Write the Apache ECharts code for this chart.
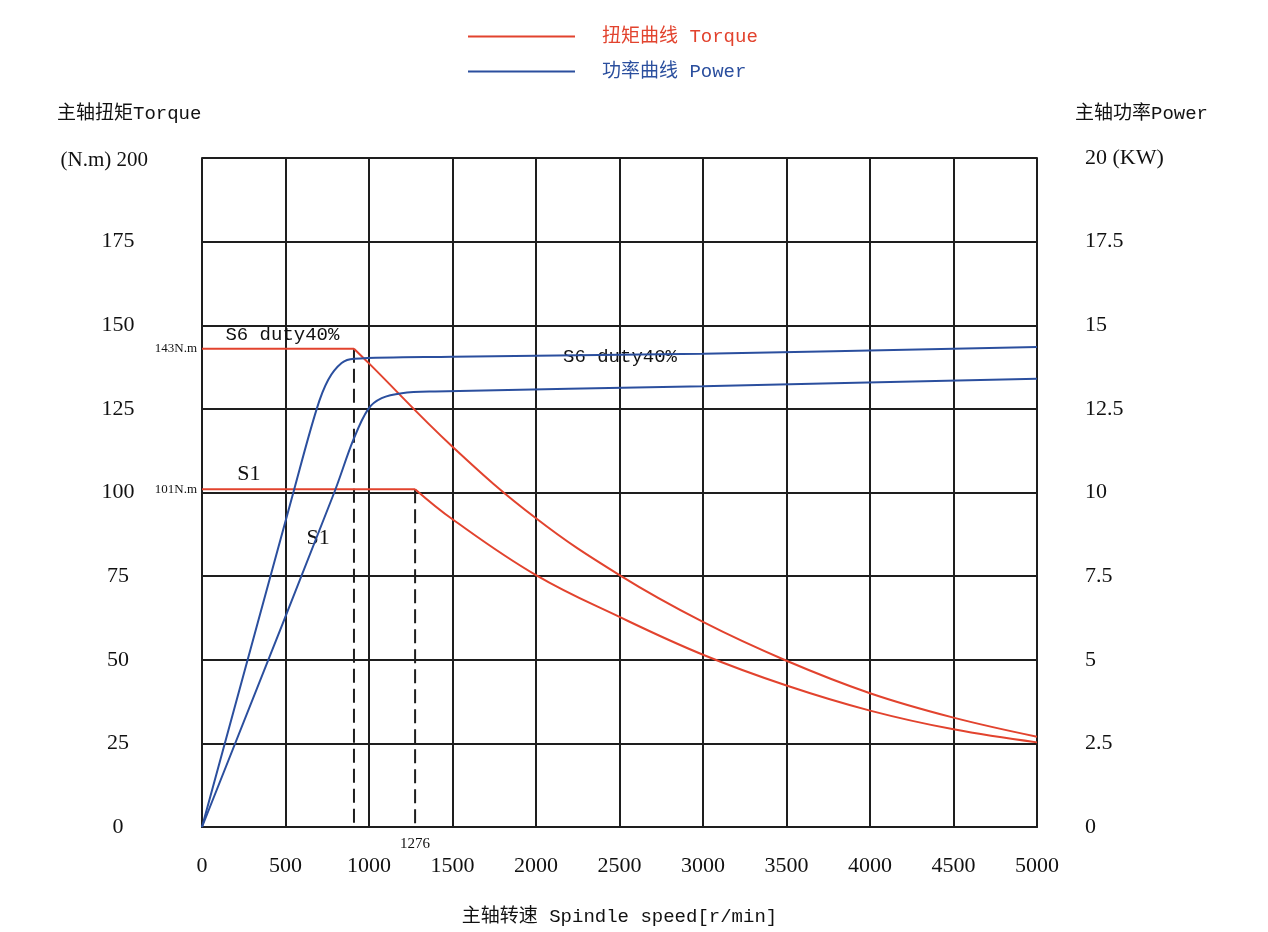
<!DOCTYPE html>
<html><head><meta charset="utf-8">
<script src="https://cdn.jsdelivr.net/npm/echarts@6/dist/echarts.min.js"></script>
<style>html,body{margin:0;padding:0;background:#fff}#c{width:1268px;height:932px}</style>
</head><body><div id="c"></div><script>
// ---- data ----
const speedMin = 0, speedMax = 5000, speedStep = 500;
const torqueMin = 0, torqueMax = 200, torqueStep = 25;
const powerMin = 0, powerMax = 20, powerStep = 2.5;
// torque [rpm, N.m]
const torqueS6 = [[0,143],[910,143],[1000,138.6],[1500,113.7],[2000,92.3],[2500,75.3],[3000,61.3],[3500,49.7],[4000,40],[4500,32.7],[5000,27]];
const torqueS1 = [[0,101],[1276,101],[1500,92],[2000,75.3],[2500,62.8],[3000,51.5],[3500,42.3],[4000,34.8],[4500,29.2],[5000,25.3]];
// power [rpm, kW]
const powerS6 = [[0,0],[547,10],[687,12.5],[756,13.37],[836,13.87],[910,14.0],[1500,14.06],[3000,14.15],[5000,14.35]];
const powerS1 = [[0,0],[792,10],[906,11.57],[996,12.5],[1076,12.82],[1196,12.97],[1395,13.02],[3000,13.18],[5000,13.4]];
// corner-speed guide lines
const cornerS6 = [[910,143],[910,0]];
const cornerS1 = [[1276,101],[1276,0]];
const torqueName = '扭矩曲线 Torque', powerName = '功率曲线 Power';

(function () {
const RED = '#e2432e', BLUE = '#2b4f9e', INK = '#1e1e1e';
const MONO = "'Liberation Mono','Noto Sans CJK SC',monospace";
const SERIF = "'Liberation Serif','Noto Sans CJK SC',serif";

const chart = echarts.init(document.getElementById('c'));
const flatLen = 2;
const option = {
  backgroundColor: '#fff',
  animation: false,
  grid: { left: 202, right: 231, top: 158, bottom: 105, outerBoundsMode: 'none', containLabel: false },
  legend: {
    left: 463, top: 22, orient: 'vertical', icon: 'rect', itemWidth: 107, itemHeight: 2, itemGap: 16,
    textStyle: { fontSize: 19, fontFamily: MONO, padding: [0,0,0,22] },
    data: [
      { name: torqueName, textStyle: { color: RED } },
      { name: powerName, textStyle: { color: BLUE } }
    ]
  },
  xAxis: {
    type: 'value', min: speedMin, max: speedMax, interval: speedStep,
    axisLine: { lineStyle: { color: INK, width: 2 } },
    axisTick: { show: false },
    splitLine: { show: true, lineStyle: { color: INK, width: 2 } },
    axisLabel: { margin: 28, fontSize: 22, fontFamily: SERIF, color: '#111', formatter: v => String(v) },
    name: '主轴转速 Spindle speed[r/min]', nameLocation: 'middle', nameGap: 80,
    nameTextStyle: { fontSize: 19, fontFamily: MONO, color: '#111' }
  },
  yAxis: [{
    type: 'value', position: 'left', min: torqueMin, max: torqueMax, interval: torqueStep,
    axisLine: { show: true, lineStyle: { color: INK, width: 2 } },
    axisTick: { show: false },
    splitLine: { show: true, lineStyle: { color: INK, width: 2 } },
    axisLabel: { margin: 84, align: 'center', fontSize: 22, fontFamily: SERIF, color: '#111',
      formatter: v => v === torqueMax ? '' : String(v) }
  }, {
    type: 'value', position: 'right', min: powerMin, max: powerMax, interval: powerStep,
    axisLine: { show: true, lineStyle: { color: INK, width: 2 } },
    axisTick: { show: false },
    splitLine: { show: false },
    axisLabel: { margin: 48, align: 'left', fontSize: 22, fontFamily: SERIF, color: '#111',
      formatter: v => v === powerMax ? v + ' (KW)' : String(v) }
  }],
  series: [
    { name: torqueName, type: 'line', data: torqueS6.slice(0, flatLen), showSymbol: false, color: RED, lineStyle: { width: 2 } },
    { name: torqueName, type: 'line', data: torqueS6.slice(flatLen - 1), smooth: 0.4, showSymbol: false, color: RED, lineStyle: { width: 2 } },
    { name: torqueName, type: 'line', data: torqueS1.slice(0, flatLen), showSymbol: false, color: RED, lineStyle: { width: 2 } },
    { name: torqueName, type: 'line', data: torqueS1.slice(flatLen - 1), smooth: 0.4, showSymbol: false, color: RED, lineStyle: { width: 2 } },
    { name: powerName, type: 'line', yAxisIndex: 1, data: powerS6, smooth: 0.35, showSymbol: false, color: BLUE, lineStyle: { width: 2 } },
    { name: powerName, type: 'line', yAxisIndex: 1, data: powerS1, smooth: 0.35, showSymbol: false, color: BLUE, lineStyle: { width: 2 } },
    { name: 'g1', type: 'line', data: cornerS6, showSymbol: false, silent: true, z: 1, lineStyle: { color: INK, width: 2, type: [14, 6] } },
    { name: 'g2', type: 'line', data: cornerS1, showSymbol: false, silent: true, z: 1, lineStyle: { color: INK, width: 2, type: [14, 6] } }
  ]
};
chart.setOption(option);

function px(x, y) { return chart.convertToPixel({ gridIndex: 0 }, [x, y]); }
function pxR(x, y) { return chart.convertToPixel({ xAxisIndex: 0, yAxisIndex: 1 }, [x, y]); }
const o0 = px(0, 0), pTop = px(0, torqueMax);
const t = (txt, x, y, opts) => ({ type: 'text', x, y, style: Object.assign({ text: txt, fill: '#111', font: '19px ' + MONO, textVerticalAlign: 'middle' }, opts || {}) });
const a143 = px(0, torqueS6[0][1]), a101 = px(0, torqueS1[0][1]), a1276 = px(cornerS1[0][0], 0);
const l1 = px(140, 147), l2 = px(281, 105.5), l3 = px(695, 86.4), l4 = pxR(2503, 14.05);
chart.setOption({
  graphic: [
    t('主轴扭矩Torque', 57, 114),
    t('(N.m) 200', pTop[0] - 54, pTop[1] + 2, { textAlign: 'right', font: '21px ' + SERIF }),
    t('主轴功率Power', 1075, 114),
    t('143N.m', a143[0] - 5, a143[1], { textAlign: 'right', font: '13px ' + SERIF }),
    t('101N.m', a101[0] - 5, a101[1], { textAlign: 'right', font: '13px ' + SERIF }),
    t('1276', a1276[0], o0[1] + 17, { textAlign: 'center', font: '15px ' + SERIF }),
    t('S6 duty40%', l1[0], l1[1], { textAlign: 'left' }),
    t('S1', l2[0], l2[1], { textAlign: 'center', font: '22px ' + SERIF }),
    t('S1', l3[0], l3[1], { textAlign: 'center', font: '22px ' + SERIF }),
    t('S6 duty40%', l4[0], l4[1], { textAlign: 'center' })
  ]
});
})();
</script></body></html>
